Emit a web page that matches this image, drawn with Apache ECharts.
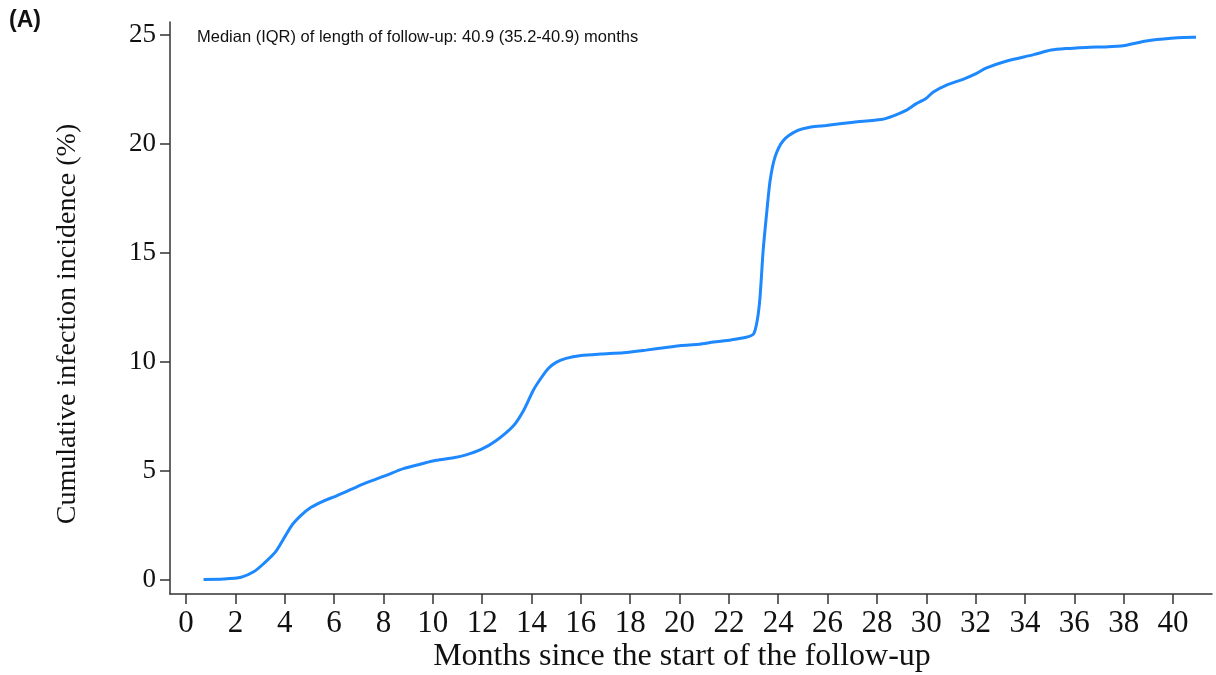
<!DOCTYPE html>
<html>
<head>
<meta charset="utf-8">
<script src="https://cdn.jsdelivr.net/npm/echarts@6/dist/echarts.min.js"></script>
<style>html,body{margin:0;padding:0;background:#fff}#c{width:1216px;height:675px}</style>
</head>
<body>
<div id="c"></div>
<script>
const months = [0.71, 1.52, 2.23, 2.74, 3.14, 3.65, 4.26, 4.66, 5.07, 5.57, 6.08, 6.69, 7.29, 8.11, 8.81, 9.52, 10.13, 10.84, 11.35, 11.96, 12.56, 13.27, 13.68, 14.08, 14.39, 14.69, 15.0, 15.4, 16.01, 16.82, 17.73, 18.64, 19.45, 20.06, 20.77, 21.38, 22.09, 22.7, 23.0, 23.15, 23.26, 23.39, 23.54, 23.67, 23.87, 24.2, 24.75, 25.33, 25.94, 27.05, 28.17, 28.67, 29.18, 29.58, 29.99, 30.29, 30.8, 31.51, 32.02, 32.42, 33.23, 34.35, 35.06, 35.66, 36.47, 37.89, 38.91, 39.92, 40.83, 40.93];
const incidence = [0, 0.02, 0.1, 0.35, 0.72, 1.3, 2.44, 2.94, 3.31, 3.6, 3.83, 4.13, 4.43, 4.78, 5.09, 5.3, 5.47, 5.59, 5.72, 5.97, 6.37, 7.06, 7.76, 8.7, 9.25, 9.7, 9.97, 10.15, 10.28, 10.35, 10.41, 10.53, 10.65, 10.74, 10.8, 10.9, 11.0, 11.12, 11.27, 11.9, 12.93, 15.12, 16.92, 18.31, 19.4, 20.15, 20.6, 20.78, 20.85, 21.0, 21.12, 21.29, 21.54, 21.84, 22.09, 22.39, 22.69, 22.98, 23.23, 23.48, 23.8, 24.1, 24.31, 24.38, 24.43, 24.5, 24.73, 24.85, 24.9, 24.9];
const xTicks = [0, 2, 4, 6, 8, 10, 12, 14, 16, 18, 20, 22, 24, 26, 28, 30, 32, 34, 36, 38, 40];
const yTicks = [0, 5, 10, 15, 20, 25];
const xTitle = 'Months since the start of the follow-up';
const yTitle = 'Cumulative infection incidence (%)';
const note = 'Median (IQR) of length of follow-up: 40.9 (35.2-40.9) months';
const panel = '(A)';

const data = months.map((m, i) => [m, incidence[i]]);
const axisColor = '#333';
const serif = '"Liberation Serif", "DejaVu Serif", serif';

const chart = echarts.init(document.getElementById('c'), null, {renderer: 'canvas'});
chart.setOption({
  animation: false,
  backgroundColor: '#fff',
  grid: {left: 170, right: 4, top: 22, bottom: 81, containLabel: false},
  xAxis: {
    type: 'value', min: -0.65, max: 41.58,
    axisLine: {show: true, onZero: false, lineStyle: {color: axisColor, width: 1.5}},
    axisTick: {show: true, customValues: xTicks, length: 10, lineStyle: {color: axisColor, width: 1.5}},
    axisLabel: {customValues: xTicks, color: '#111', fontFamily: serif, fontSize: 31, margin: 14},
    splitLine: {show: false}
  },
  yAxis: {
    type: 'value', min: -0.67, max: 25.6,
    axisLine: {show: true, onZero: false, lineStyle: {color: axisColor, width: 1.5}},
    axisTick: {show: true, customValues: yTicks, length: 10, lineStyle: {color: axisColor, width: 1.5}},
    axisLabel: {customValues: yTicks, color: '#111', fontFamily: serif, fontSize: 27, margin: 14},
    splitLine: {show: false}
  },
  series: [{
    type: 'line', data: data, showSymbol: false, smooth: 0.25,
    lineStyle: {color: '#1E88FF', width: 3}
  }],
  graphic: [
    {type: 'text', left: 9, top: 9, style: {text: panel, font: 'bold 23px "Liberation Sans", Arial, sans-serif', fill: '#111'}},
    {type: 'text', left: 197, top: 29, style: {text: note, font: '16.5px "Liberation Sans", Arial, sans-serif', fill: '#111'}},
    {type: 'text', x: 682, y: 657, style: {text: xTitle, font: '32px ' + serif, fill: '#111', align: 'center', verticalAlign: 'middle'}},
    {type: 'text', x: 68, y: 324, rotation: Math.PI / 2, style: {text: yTitle, font: '28px ' + serif, fill: '#111', align: 'center', verticalAlign: 'middle'}}
  ]
});
</script>
</body>
</html>
